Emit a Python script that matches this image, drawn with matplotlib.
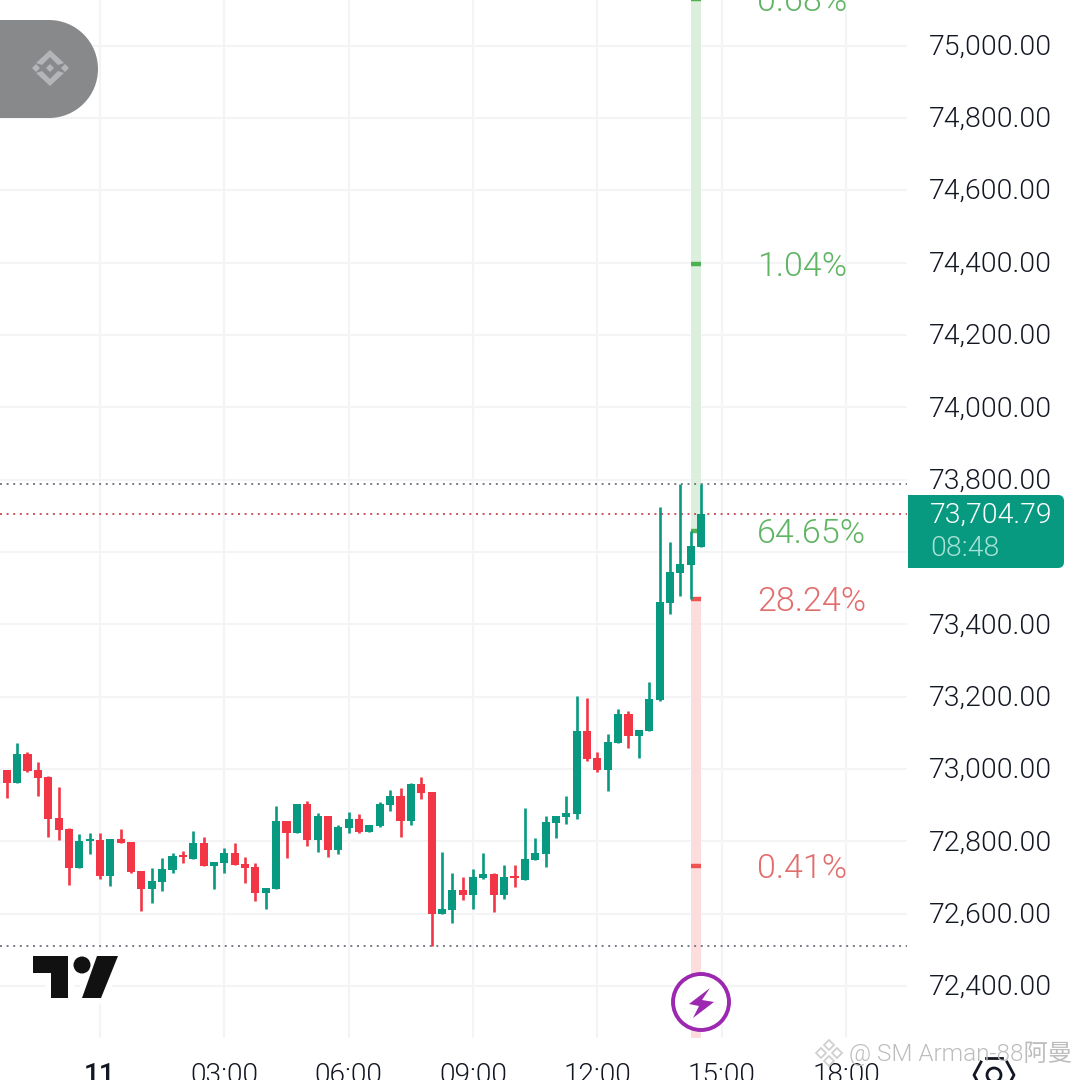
import matplotlib
matplotlib.use('Agg')
import matplotlib.pyplot as plt
from matplotlib.patches import FancyBboxPatch, Polygon, Circle, Rectangle
from matplotlib.transforms import ScaledTranslation

# 15 minute candles, first one is 9 bars before 00:00 on the 11th
first_bar = -9
opens = [72997, 72961, 73041, 72997, 72978, 72864, 72834, 72726, 72801, 72804,
         72704, 72806, 72798, 72718, 72668, 72688, 72721, 72762, 72751, 72795,
         72732, 72740, 72768, 72737, 72729, 72657, 72668, 72856, 72823, 72903,
         72804, 72870, 72776, 72837, 72862, 72826, 72842, 72900, 72925, 72856,
         72958, 72936, 72599, 72610, 72665, 72652, 72699, 72710, 72652, 72704,
         72693, 72748, 72765, 72851, 72867, 72875, 73105, 73030, 72997, 73072,
         73152, 73091, 73105, 73191, 73459, 73542, 73564, 73614]
highs = [72997, 73072, 73047, 73019, 72981, 72950, 72837, 72820, 72823, 72823,
         72806, 72834, 72798, 72718, 72726, 72754, 72768, 72773, 72828, 72812,
         72743, 72782, 72795, 72757, 72740, 72671, 72898, 72856, 72903, 72911,
         72878, 72870, 72845, 72881, 72875, 72845, 72909, 72942, 72947, 72961,
         72978, 72936, 72770, 72712, 72701, 72723, 72768, 72712, 72735, 72735,
         72892, 72809, 72870, 72870, 72925, 73202, 73196, 73047, 73097, 73166,
         73160, 73108, 73240, 73724, 73627, 73788, 73658, 73788]
lows = [72920, 72961, 72992, 72925, 72812, 72804, 72679, 72726, 72765, 72696,
        72676, 72795, 72712, 72607, 72629, 72663, 72712, 72740, 72751, 72732,
        72668, 72712, 72735, 72685, 72635, 72613, 72668, 72754, 72823, 72787,
        72770, 72757, 72765, 72823, 72823, 72826, 72840, 72884, 72812, 72845,
        72917, 72511, 72599, 72574, 72638, 72613, 72696, 72605, 72641, 72674,
        72693, 72748, 72729, 72809, 72848, 72862, 73022, 72992, 72939, 73072,
        73058, 73030, 73105, 73188, 73428, 73478, 73470, 73614]
closes = [72961, 73041, 72994, 72975, 72862, 72831, 72726, 72801, 72806, 72704,
          72806, 72795, 72715, 72668, 72690, 72723, 72759, 72757, 72795, 72732,
          72743, 72768, 72735, 72726, 72657, 72671, 72856, 72823, 72903, 72804,
          72870, 72776, 72840, 72862, 72826, 72845, 72903, 72925, 72856, 72958,
          72934, 72599, 72613, 72665, 72652, 72701, 72710, 72652, 72701, 72699,
          72751, 72768, 72853, 72870, 72878, 73105, 73028, 72997, 73075, 73152,
          73091, 73108, 73193, 73462, 73544, 73567, 73616, 73704.79]

price_ticks = [72400, 72600, 72800, 73000, 73200, 73400, 73600, 73800,
               74000, 74200, 74400, 74600, 74800, 75000]
time_ticks = [0, 3, 6, 9, 12, 15, 18]
time_labels = ['11', '03:00', '06:00', '09:00', '12:00', '15:00', '18:00']

last_price = 73704.79
countdown = '08:48'
session_high = 73788
session_low = 72511

# probability column next to the last candle
prob_hour = 14.38
prob_prices = [75128, 74396, 73658, 73470, 72732]
prob_labels = ['0.68%', '1.04%', '64.65%', '28.24%', '0.41%']
prob_up = [True, True, True, False, False]

GREEN = '#089981'
RED = '#f23645'
GRID = '#f3f4f6'
TEXT = '#131722'
plt.rcParams['font.family'] = ['Roboto', 'Noto Sans CJK SC', 'DejaVu Sans']

fig = plt.figure(figsize=(10.8, 10.8), dpi=100)
ax = fig.add_axes([0, 42 / 1080, 907 / 1080, 1038 / 1080])
px_hour = 41.45
px_price = 0.36173
ax.set_xlim(-100 / px_hour, 807 / px_hour)
ax.set_ylim(72400 - 52 / px_price, 72400 + 986 / px_price)
for s in ax.spines.values():
  s.set_visible(False)

ax.set_axisbelow(True)
ax.grid(color=GRID, lw=1.5)
ax.yaxis.tick_right()
ax.set_yticks(price_ticks)
ax.set_yticklabels([f'{p:,.2f}' for p in price_ticks])
ax.set_xticks(time_ticks)
ax.set_xticklabels(time_labels)
ax.tick_params(axis='y', length=0, pad=16, labelsize=20.4, labelcolor=TEXT)
ax.tick_params(axis='x', length=0, pad=17, labelsize=20.2, labelcolor=TEXT)
for lab in ax.get_yticklabels() + ax.get_xticklabels()[1:]:
  lab.set_fontweight(300)
ax.get_xticklabels()[0].set_fontweight(500)
lift = ScaledTranslation(0, 1.5 / 100, fig.dpi_scale_trans)
for lab in ax.get_yticklabels():
  lab.set_transform(lab.get_transform() + lift)

# probability bands and markers
ymin, ymax = ax.get_ylim()
ax.axvspan(prob_hour - 0.13, prob_hour + 0.13, ymin=(prob_prices[2] - ymin) / (ymax - ymin),
           color='#dcefdc', lw=0, zorder=1)
ax.axvspan(prob_hour - 0.13, prob_hour + 0.13, ymax=(prob_prices[3] - ymin) / (ymax - ymin),
           color='#fcdcdc', lw=0, zorder=1)
for p, lab, up in zip(prob_prices, prob_labels, prob_up):
  ax.plot([prob_hour - 0.13, prob_hour + 0.13], [p, p], color='#4caf50' if up else '#ef5350',
          lw=3.2, solid_capstyle='butt', zorder=2, clip_on=False)
  ax.annotate(lab, (15.85, p), xytext=(0, -2.2), textcoords='offset points',
              color='#5fb563' if up else '#e26d6d', fontsize=24.6, fontweight=300,
              va='center', ha='left', zorder=2, annotation_clip=False)

# dotted reference lines
dots = (0, (1.0, 2.4))
ax.axhline(session_high, color='#787b86', lw=1.4, ls=dots, zorder=2)
ax.axhline(session_low, color='#787b86', lw=1.4, ls=dots, zorder=2)
ax.axhline(last_price, color='#c9545c', lw=1.4, ls=dots, zorder=2)

# candles
for i in range(len(opens)):
  t = (first_bar + i) * 0.25
  c = GREEN if closes[i] >= opens[i] else RED
  ax.vlines(t, lows[i], highs[i], color=c, lw=1.9, zorder=3)
  bottom = min(opens[i], closes[i])
  ax.bar(t, abs(closes[i] - opens[i]), bottom=bottom, width=0.195, color=c, lw=0, zorder=4)

# overlay in screen pixels for the app furniture
ov = fig.add_axes([0, 0, 1, 1])
ov.set_xlim(0, 1080)
ov.set_ylim(1080, 0)
ov.axis('off')
ov.patch.set_alpha(0)

# last price tag
ov.add_patch(FancyBboxPatch((908, 495), 156, 73, boxstyle='round,pad=0,rounding_size=6', fc=GREEN, ec='none'))
ov.add_patch(Rectangle((908, 495), 12, 73, fc=GREEN, lw=0))
ov.text(930, 515, f'{last_price:,.2f}', color='white', fontsize=20.4, fontweight=300, va='center')
ov.text(930, 548, countdown, color='#a5e2d4', fontsize=20.4, fontweight=300, va='center')

# exchange badge
ov.add_patch(Rectangle((0, 20), 49, 98, fc='#88898b', lw=0))
ov.add_patch(Circle((49, 69), 49, fc='#88898b', ec='none'))
for pts in [[(50, 50), (64, 63), (58, 65), (50, 57), (42, 65), (36, 63)],
            [(50, 86), (64, 73), (58, 71), (50, 79), (42, 71), (36, 73)],
            [(50, 64), (54, 68), (50, 72), (46, 68)],
            [(36, 64), (40, 68), (36, 72), (32, 68)],
            [(65, 64), (69, 68), (65, 72), (61, 68)]]:
  ov.add_patch(Polygon(pts, closed=True, fc='#b4b5b9', ec='none'))

# chart logo with white halo
logo = [[(33, 956), (68, 956), (68, 998), (51, 998), (51, 973), (33, 973)],
        [(97, 956), (118, 956), (101, 998), (82, 998)]]
for pts in logo:
  ov.add_patch(Polygon(pts, closed=True, fc='white', ec='white', lw=8))
ov.add_patch(Circle((82, 965), 8.5, fc='white', ec='white', lw=8))
for pts in logo:
  ov.add_patch(Polygon(pts, closed=True, fc='#111111', ec='none'))
ov.add_patch(Circle((82, 965), 8.5, fc='#111111', ec='none'))

# lightning button
ov.add_patch(Circle((701, 1002), 28, fc='white', ec='#9c27b0', lw=2.8))
ov.add_patch(Polygon([(710, 988), (702, 1000), (714, 1002), (693, 1018), (699, 1006), (689, 1004)],
                     closed=True, fc='#9c27b0', ec='none'))

# settings hexagon, cut by the bottom edge
ov.plot([986, 1002], [1058, 1058], color=TEXT, lw=2)
ov.plot([981, 974, 981], [1062, 1075, 1088], color=TEXT, lw=2)
ov.plot([1007, 1014, 1007], [1062, 1075, 1088], color=TEXT, lw=2)
ov.add_patch(Circle((994, 1075), 7, fc='none', ec=TEXT, lw=2))

# watermark
for cx, cy in [(829, 1045), (821, 1053), (837, 1053), (829, 1061)]:
  ov.add_patch(Polygon([(cx, cy - 5), (cx + 5, cy), (cx, cy + 5), (cx - 5, cy)], closed=True,
                       fc='none', ec='#d0d0d0', lw=1.3))
ov.text(849, 1054, '@ SM Arman-88阿曼', color='#bdbdbd', fontsize=17.5, fontweight=300, va='center')

fig.savefig('out.png', dpi=100)
